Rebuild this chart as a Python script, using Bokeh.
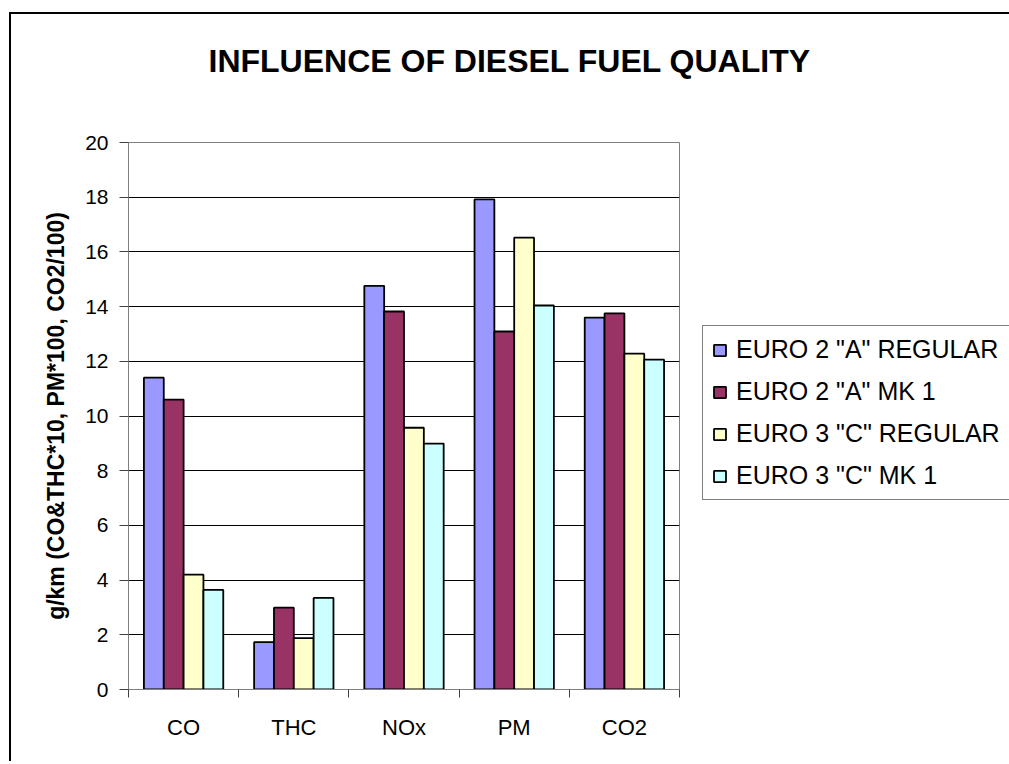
from bokeh.plotting import figure
from bokeh.models import (ColumnDataSource, FixedTicker, Legend, LegendItem, Title)
from bokeh.embed import file_html
from bokeh.resources import INLINE

# ---- data ----
categories = ["CO", "THC", "NOx", "PM", "CO2"]
series_names = ['EURO 2 "A" REGULAR', 'EURO 2 "A" MK 1', 'EURO 3 "C" REGULAR', 'EURO 3 "C" MK 1']
euro2_a_regular = [11.4, 1.73, 14.76, 17.92, 13.6]
euro2_a_mk1 = [10.6, 2.99, 13.82, 13.09, 13.75]
euro3_c_regular = [4.2, 1.88, 9.57, 16.52, 12.28]
euro3_c_mk1 = [3.64, 3.35, 8.99, 14.04, 12.06]
y_ticks = [0, 2, 4, 6, 8, 10, 12, 14, 16, 18, 20]
title_text = "INFLUENCE OF DIESEL FUEL QUALITY"
y_title = "g/km (CO&THC*10, PM*100, CO2/100)"

series = [euro2_a_regular, euro2_a_mk1, euro3_c_regular, euro3_c_mk1]
colors = ["#9999FF", "#993366", "#FFFFCC", "#CCFFFF"]

FONT = "Liberation Sans"

p = figure(frame_width=551, frame_height=547, output_backend="svg", toolbar_location=None,
           x_range=(0, len(categories)), y_range=(0, 20),
           min_border_left=117, min_border_right=330,
           min_border_top=127, min_border_bottom=74)
p.styles = {"margin-left": "11px", "margin-top": "14px",
            "box-shadow": "-2px -2px 0 0 #000000"}

p.background_fill_color = "white"
p.border_fill_color = "white"
p.outline_line_color = "#808080"
p.outline_line_width = 1

# title (outermost) plus a blank spacer row between it and the plot area
p.title = Title(text=title_text, align="left", offset=80, standoff=56,
                vertical_align="top",
                text_font=FONT, text_font_size="32px", text_font_style="bold",
                text_color="black")
p.add_layout(Title(text=" ", standoff=21, text_font=FONT, text_font_size="10px"), "above")

bar_w = 0.18
offsets = [-1.5 * bar_w, -0.5 * bar_w, 0.5 * bar_w, 1.5 * bar_w]
renderers = []
for vals, col, off in zip(series, colors, offsets):
    src = ColumnDataSource(dict(x=[i + 0.5 + off for i in range(len(categories))], top=vals))
    r = p.vbar(x="x", top="top", width=bar_w, bottom=0, source=src,
               fill_color=col, line_color="black", line_width=1.8)
    renderers.append(r)

# grid
p.xgrid.grid_line_color = None
p.ygrid.grid_line_color = "black"
p.ygrid.grid_line_width = 1
p.ygrid.ticker = FixedTicker(ticks=y_ticks)

# y axis
p.yaxis.ticker = FixedTicker(ticks=y_ticks)
p.yaxis.axis_line_color = "#808080"
p.yaxis.major_tick_line_color = "#404040"
p.yaxis.major_tick_out = 9
p.yaxis.major_tick_in = 0
p.yaxis.minor_tick_line_color = None
p.yaxis.major_label_text_font = FONT
p.yaxis.major_label_text_font_size = "21px"
p.yaxis.major_label_text_color = "black"
p.yaxis.major_label_standoff = 11
p.yaxis.axis_label = y_title
p.yaxis.axis_label_text_font = FONT
p.yaxis.axis_label_text_font_size = "23px"
p.yaxis.axis_label_text_font_style = "bold"
p.yaxis.axis_label_text_color = "black"
p.yaxis.axis_label_standoff = 13

# x axis
p.xaxis.ticker = FixedTicker(ticks=[i + 0.5 for i in range(len(categories))],
                             minor_ticks=list(range(len(categories) + 1)))
p.xaxis.major_label_overrides = {i + 0.5: c for i, c in enumerate(categories)}
p.xaxis.axis_line_color = "#808080"
p.xaxis.major_tick_line_color = None
p.xaxis.major_tick_out = 0
p.xaxis.major_tick_in = 0
p.xaxis.minor_tick_line_color = "#404040"
p.xaxis.minor_tick_out = 8
p.xaxis.minor_tick_in = 0
p.xaxis.major_label_text_font = FONT
p.xaxis.major_label_text_font_size = "22px"
p.xaxis.major_label_text_color = "black"
p.xaxis.major_label_standoff = 17

legend = Legend(items=[LegendItem(label=n, renderers=[r]) for n, r in zip(series_names, renderers)],
                location=(23, 189))
legend.label_text_font = FONT
legend.label_text_font_size = "25px"
legend.label_text_color = "black"
legend.label_height = 20
legend.glyph_width = 15
legend.glyph_height = 14
legend.label_standoff = 9
legend.spacing = 13
legend.padding = 9
legend.margin = 0
legend.border_line_color = "black"
legend.border_line_width = 1
legend.background_fill_color = "white"
legend.background_fill_alpha = 1
p.add_layout(legend, "right")

open("out.html", "w").write(file_html(p, INLINE))
